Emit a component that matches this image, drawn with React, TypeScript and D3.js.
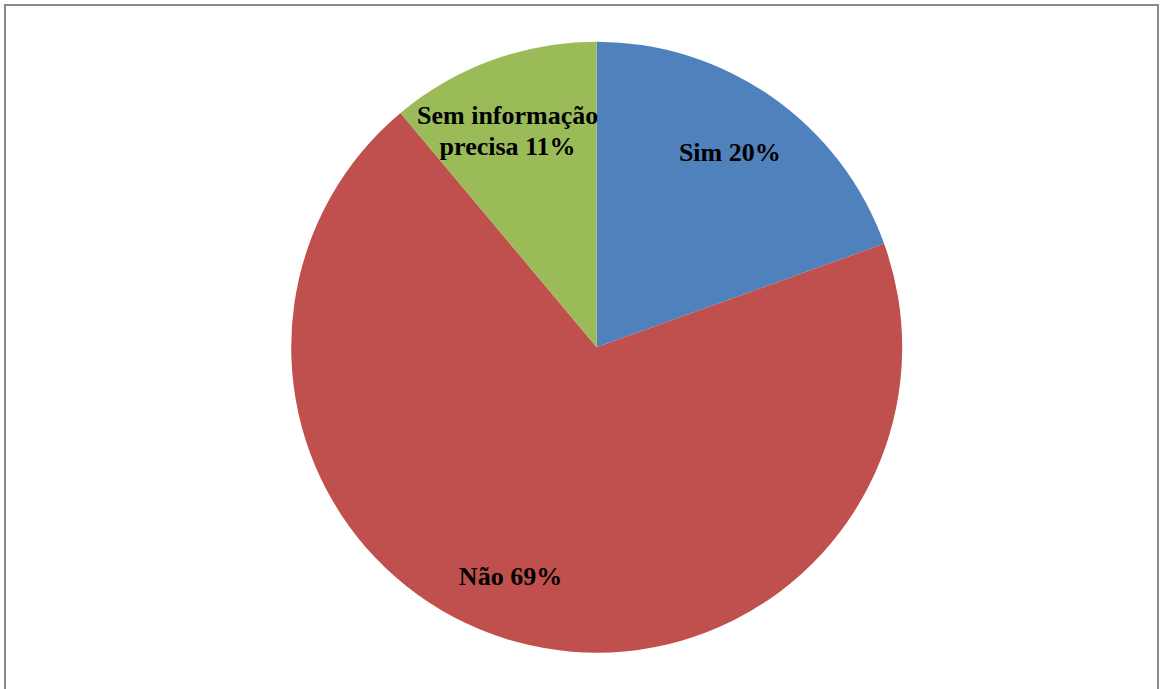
import React from "react";
import * as d3 from "d3";

const categories = ["Sim", "Não", "Sem informação precisa"];
const values = [19.5, 69.4, 11.1];
const colors = ["#4F81BD", "#C0504D", "#9BBB59"];
const labelLines = [["Sim 20%"], ["Não 69%"], ["Sem informação", "precisa 11%"]];

const W = 1160;
const H = 689;
const cx = 596.7;
const cy = 347.2;
const R = 305.5;

// label placement: offset from slice mid-angle (degrees) and radius (px) of first baseline
const labelAngleOffset = [0.5, 4.8, -1.8];
const labelRadius = [228.7, 253, 240.1];

export default function App() {
  const pie = d3.pie<number>().sort(null).value((d) => d);
  const arcs = pie(values);
  const arcGen = d3.arc<d3.PieArcDatum<number>>().innerRadius(0).outerRadius(R);
  const fontSize = 26;
  const lineH = 31;
  return (
    <svg
      width={W}
      height={H}
      style={{ position: "absolute", left: 0, top: 0, background: "#fff" }}
    >
      <rect x={5} y={5} width={1153} height={H + 10} fill="#fff" stroke="#8a8a8a" strokeWidth={2} />
      <g transform={`translate(${cx},${cy})`}>
        {arcs.map((a, i) => (
          <path key={categories[i]} d={arcGen(a) || ""} fill={colors[i]} />
        ))}
        {arcs.map((a, i) => {
          const mid = (a.startAngle + a.endAngle) / 2 + (labelAngleOffset[i] * Math.PI) / 180;
          const r = labelRadius[i];
          const x = Math.sin(mid) * r;
          const y = -Math.cos(mid) * r;
          const lines = labelLines[i];
          return (
            <text
              key={"l" + i}
              x={x}
              y={y}
              textAnchor="middle"
              fontFamily="'Liberation Serif', 'Times New Roman', serif"
              fontWeight="bold"
              fontSize={fontSize}
              fill="#000"
            >
              {lines.map((t, j) => (
                <tspan key={j} x={x} dy={j === 0 ? 0 : lineH}>
                  {t}
                </tspan>
              ))}
            </text>
          );
        })}
      </g>
    </svg>
  );
}
